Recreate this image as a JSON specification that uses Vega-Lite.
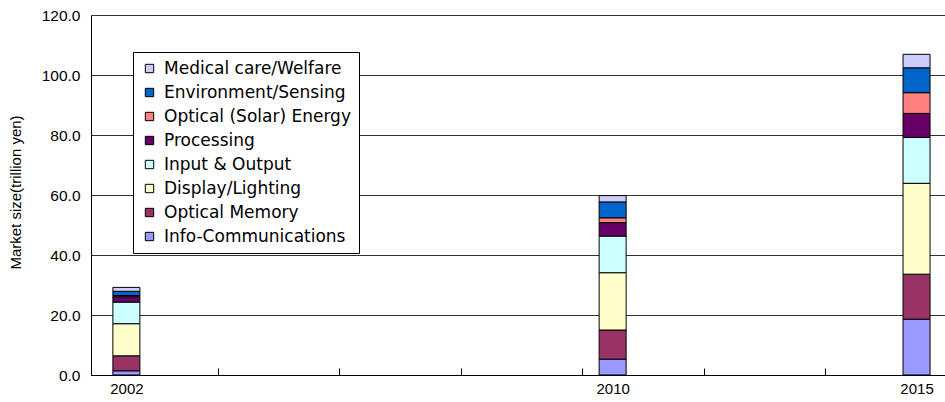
{
  "$schema": "https://vega.github.io/schema/vega-lite/v6.json",
  "width": 854,
  "height": 360,
  "autosize": "none",
  "padding": {"left": 91, "top": 15, "right": 0, "bottom": 27},
  "background": "#ffffff",
  "config": {
    "view": {"stroke": null},
    "font": "Liberation Sans",
    "axis": {"labelColor": "#000000", "titleColor": "#000000"}
  },
  "data": {
    "values": [
      {"year": 2002, "category": "Info-Communications", "k": 1, "value": 1.4},
      {"year": 2002, "category": "Optical Memory", "k": 2, "value": 5.0},
      {"year": 2002, "category": "Display/Lighting", "k": 3, "value": 10.7},
      {"year": 2002, "category": "Input & Output", "k": 4, "value": 7.2},
      {"year": 2002, "category": "Processing", "k": 5, "value": 1.8},
      {"year": 2002, "category": "Optical (Solar) Energy", "k": 6, "value": 0.4},
      {"year": 2002, "category": "Environment/Sensing", "k": 7, "value": 1.4},
      {"year": 2002, "category": "Medical care/Welfare", "k": 8, "value": 1.3},
      {"year": 2010, "category": "Info-Communications", "k": 1, "value": 5.3},
      {"year": 2010, "category": "Optical Memory", "k": 2, "value": 9.7},
      {"year": 2010, "category": "Display/Lighting", "k": 3, "value": 19.1},
      {"year": 2010, "category": "Input & Output", "k": 4, "value": 12.2},
      {"year": 2010, "category": "Processing", "k": 5, "value": 4.5},
      {"year": 2010, "category": "Optical (Solar) Energy", "k": 6, "value": 1.6},
      {"year": 2010, "category": "Environment/Sensing", "k": 7, "value": 5.3},
      {"year": 2010, "category": "Medical care/Welfare", "k": 8, "value": 2.1},
      {"year": 2015, "category": "Info-Communications", "k": 1, "value": 18.6},
      {"year": 2015, "category": "Optical Memory", "k": 2, "value": 15.0},
      {"year": 2015, "category": "Display/Lighting", "k": 3, "value": 30.3},
      {"year": 2015, "category": "Input & Output", "k": 4, "value": 15.3},
      {"year": 2015, "category": "Processing", "k": 5, "value": 8.0},
      {"year": 2015, "category": "Optical (Solar) Energy", "k": 6, "value": 6.9},
      {"year": 2015, "category": "Environment/Sensing", "k": 7, "value": 8.3},
      {"year": 2015, "category": "Medical care/Welfare", "k": 8, "value": 4.5}
    ]
  },
  "layer": [
    {
      "mark": {"type": "bar", "size": 27, "stroke": "#000000", "strokeWidth": 1},
      "encoding": {
        "x": {
          "field": "year",
          "type": "quantitative",
          "scale": {"domain": [2001.5, 2015.386], "nice": false, "zero": false},
          "axis": {
            "orient": "bottom",
            "values": [2002, 2010, 2015],
            "format": "d",
            "ticks": false,
            "grid": false,
            "domain": true,
            "domainColor": "#000000",
            "labelFontSize": 15,
            "labelPadding": 6,
            "title": null
          }
        },
        "y": {
          "field": "value",
          "type": "quantitative",
          "stack": "zero",
          "scale": {"domain": [0, 120], "nice": false},
          "axis": {
            "values": [0, 20, 40, 60, 80, 100, 120],
            "format": ".1f",
            "grid": true,
            "gridColor": "#303030",
            "gridWidth": 1,
            "ticks": false,
            "domain": true,
            "domainColor": "#000000",
            "labelFontSize": 15.5,
            "labelPadding": 11,
            "title": "Market size(trillion yen)",
            "titleFontSize": 15,
            "titleFontWeight": "normal",
            "titleAngle": -90,
            "titleX": -76,
            "titleY": 177,
            "titleAlign": "center",
            "titleBaseline": "middle"
          }
        },
        "color": {
          "field": "category",
          "type": "nominal",
          "scale": {
            "domain": ["Medical care/Welfare", "Environment/Sensing", "Optical (Solar) Energy", "Processing", "Input & Output", "Display/Lighting", "Optical Memory", "Info-Communications"],
            "range": ["#CCCCFF", "#0066CC", "#FF8080", "#660066", "#CCFFFF", "#FFFFCC", "#993366", "#9999FF"]
          },
          "legend": {
            "title": null,
            "orient": "none",
            "legendX": 42,
            "legendY": 37,
            "strokeColor": "#000000",
            "fillColor": "#ffffff",
            "padding": 8,
            "labelFont": "DejaVu Sans",
            "labelFontSize": 17,
            "labelColor": "#000000",
            "labelLimit": 0,
            "labelOffset": 6,
            "symbolType": "square",
            "symbolSize": 70,
            "symbolStrokeColor": "#000000",
            "symbolStrokeWidth": 1,
            "symbolOpacity": 1,
            "rowPadding": 6
          }
        },
        "order": {"field": "k", "type": "quantitative"}
      }
    },
    {
      "mark": {"type": "point", "opacity": 0},
      "encoding": {
        "x": {
          "field": "year",
          "type": "quantitative",
          "axis": {
            "orient": "bottom",
            "values": [2003.5, 2005.5, 2007.5, 2009.5, 2011.5, 2013.5],
            "labels": false,
            "domain": false,
            "grid": false,
            "ticks": true,
            "tickColor": "#000000",
            "tickSize": -7,
            "title": null
          }
        }
      }
    }
  ],
  "resolve": {"axis": {"x": "independent"}}
}
